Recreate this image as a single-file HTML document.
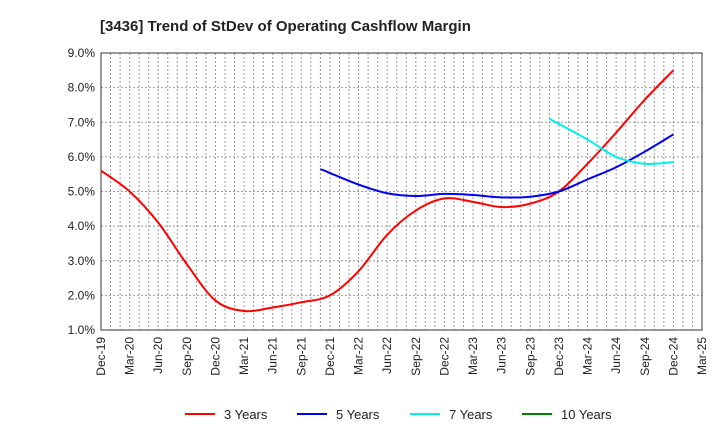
<!DOCTYPE html>
<html><head><meta charset="utf-8"><style>
body{margin:0;background:#fff;font-family:"Liberation Sans",Arial,sans-serif}
</style></head><body>
<svg id="chart" width="720" height="440" xmlns="http://www.w3.org/2000/svg">
<rect width="720" height="440" fill="#fff"/>
<text x="100" y="31" font-size="15" font-weight="bold" fill="#222">[3436]  Trend of StDev of Operating Cashflow Margin</text>
<g id="grid"></g><g id="axes"></g><g id="series"></g><g id="legend"></g>
</svg>
<script>
const xLabels=["Dec-19","Mar-20","Jun-20","Sep-20","Dec-20","Mar-21","Jun-21","Sep-21","Dec-21","Mar-22","Jun-22","Sep-22","Dec-22","Mar-23","Jun-23","Sep-23","Dec-23","Mar-24","Jun-24","Sep-24","Dec-24","Mar-25"];
const yTicks=[1,2,3,4,5,6,7,8,9];
const s3=[5.6,5.0,4.1,2.9,1.85,1.55,1.65,1.8,2.0,2.7,3.75,4.45,4.8,4.7,4.55,4.65,5.0,5.8,6.7,7.65,8.5];
const s5Start=8;
const s5=[5.65,5.2,4.95,4.87,4.93,4.9,4.83,4.85,5.0,5.35,5.7,6.15,6.65];
const s7Start=16;
const s7=[7.1,6.5,6.0,5.8,5.85];
const s10=[];
const L=101,R=702,T=53,B=330;
const x=i=>L+(R-L)*i/21, y=v=>B-(B-T)*(v-1)/8;
const NS="http://www.w3.org/2000/svg";
function mk(p,tag,a){const e=document.createElementNS(NS,tag);for(const k in a)e.setAttribute(k,a[k]);p.appendChild(e);return e;}
const grid=document.getElementById('grid'),axes=document.getElementById('axes'),ser=document.getElementById('series'),leg=document.getElementById('legend');
for(let m=1;m<63;m++){const xx=L+(R-L)*m/63;const e=mk(grid,'line',{x1:xx,x2:xx,y1:T,y2:B,stroke:'#999','stroke-dasharray':'2,2','stroke-width':1});

}
yTicks.forEach(v=>{const e=mk(grid,'line',{x1:L,x2:R,y1:y(v),y2:y(v),stroke:'#999','stroke-dasharray':'2,2','stroke-width':1});


const t=mk(axes,'text',{x:L-6,y:y(v)+4,'text-anchor':'end','font-size':12,fill:'#222'});t.textContent=v.toFixed(1)+'%';

});
const fr=mk(axes,'rect',{x:L,y:T,width:R-L,height:B-T,fill:'none',stroke:'#333','stroke-width':1});


xLabels.forEach((l,i)=>{const t=mk(axes,'text',{transform:`translate(${x(i)+4},${B+7}) rotate(-90)`,'text-anchor':'end','font-size':12,fill:'#222'});t.textContent=l;

});
function path(vals,start,shiftFirst){const p=vals.map((v,i)=>[x(start+i-(i===0&&shiftFirst?1/3:0)),y(v)]);let d='M'+p[0][0]+','+p[0][1];
for(let i=0;i<p.length-1;i++){const p0=p[i-1]||p[i],p1=p[i],p2=p[i+1],p3=p[i+2]||p2;
d+=` C${p1[0]+(p2[0]-p0[0])/6},${p1[1]+(p2[1]-p0[1])/6} ${p2[0]-(p3[0]-p1[0])/6},${p2[1]-(p3[1]-p1[1])/6} ${p2[0]},${p2[1]}`;}return d;}
const defs=[["3 Years",s3,0,"#ff0000",false],["5 Years",s5,s5Start,"#0000ee",true],["7 Years",s7,s7Start,"#00eeee",true],["10 Years",s10,0,"#008000",false]];
defs.forEach(([n,v,st,c,sh])=>{if(v.length){const e=mk(ser,'path',{d:path(v,st,sh),fill:'none',stroke:c,'stroke-width':2});

}});
const lx=[185,297,410,522];
defs.forEach(([n,v,st,c],i)=>{const g=mk(leg,'g',{});


mk(g,'line',{x1:lx[i],x2:lx[i]+30,y1:414,y2:414,stroke:c,'stroke-width':2});
const t=mk(g,'text',{x:lx[i]+39,y:419,'font-size':13,fill:'#222'});t.textContent=n;});
</script>
</body></html>
